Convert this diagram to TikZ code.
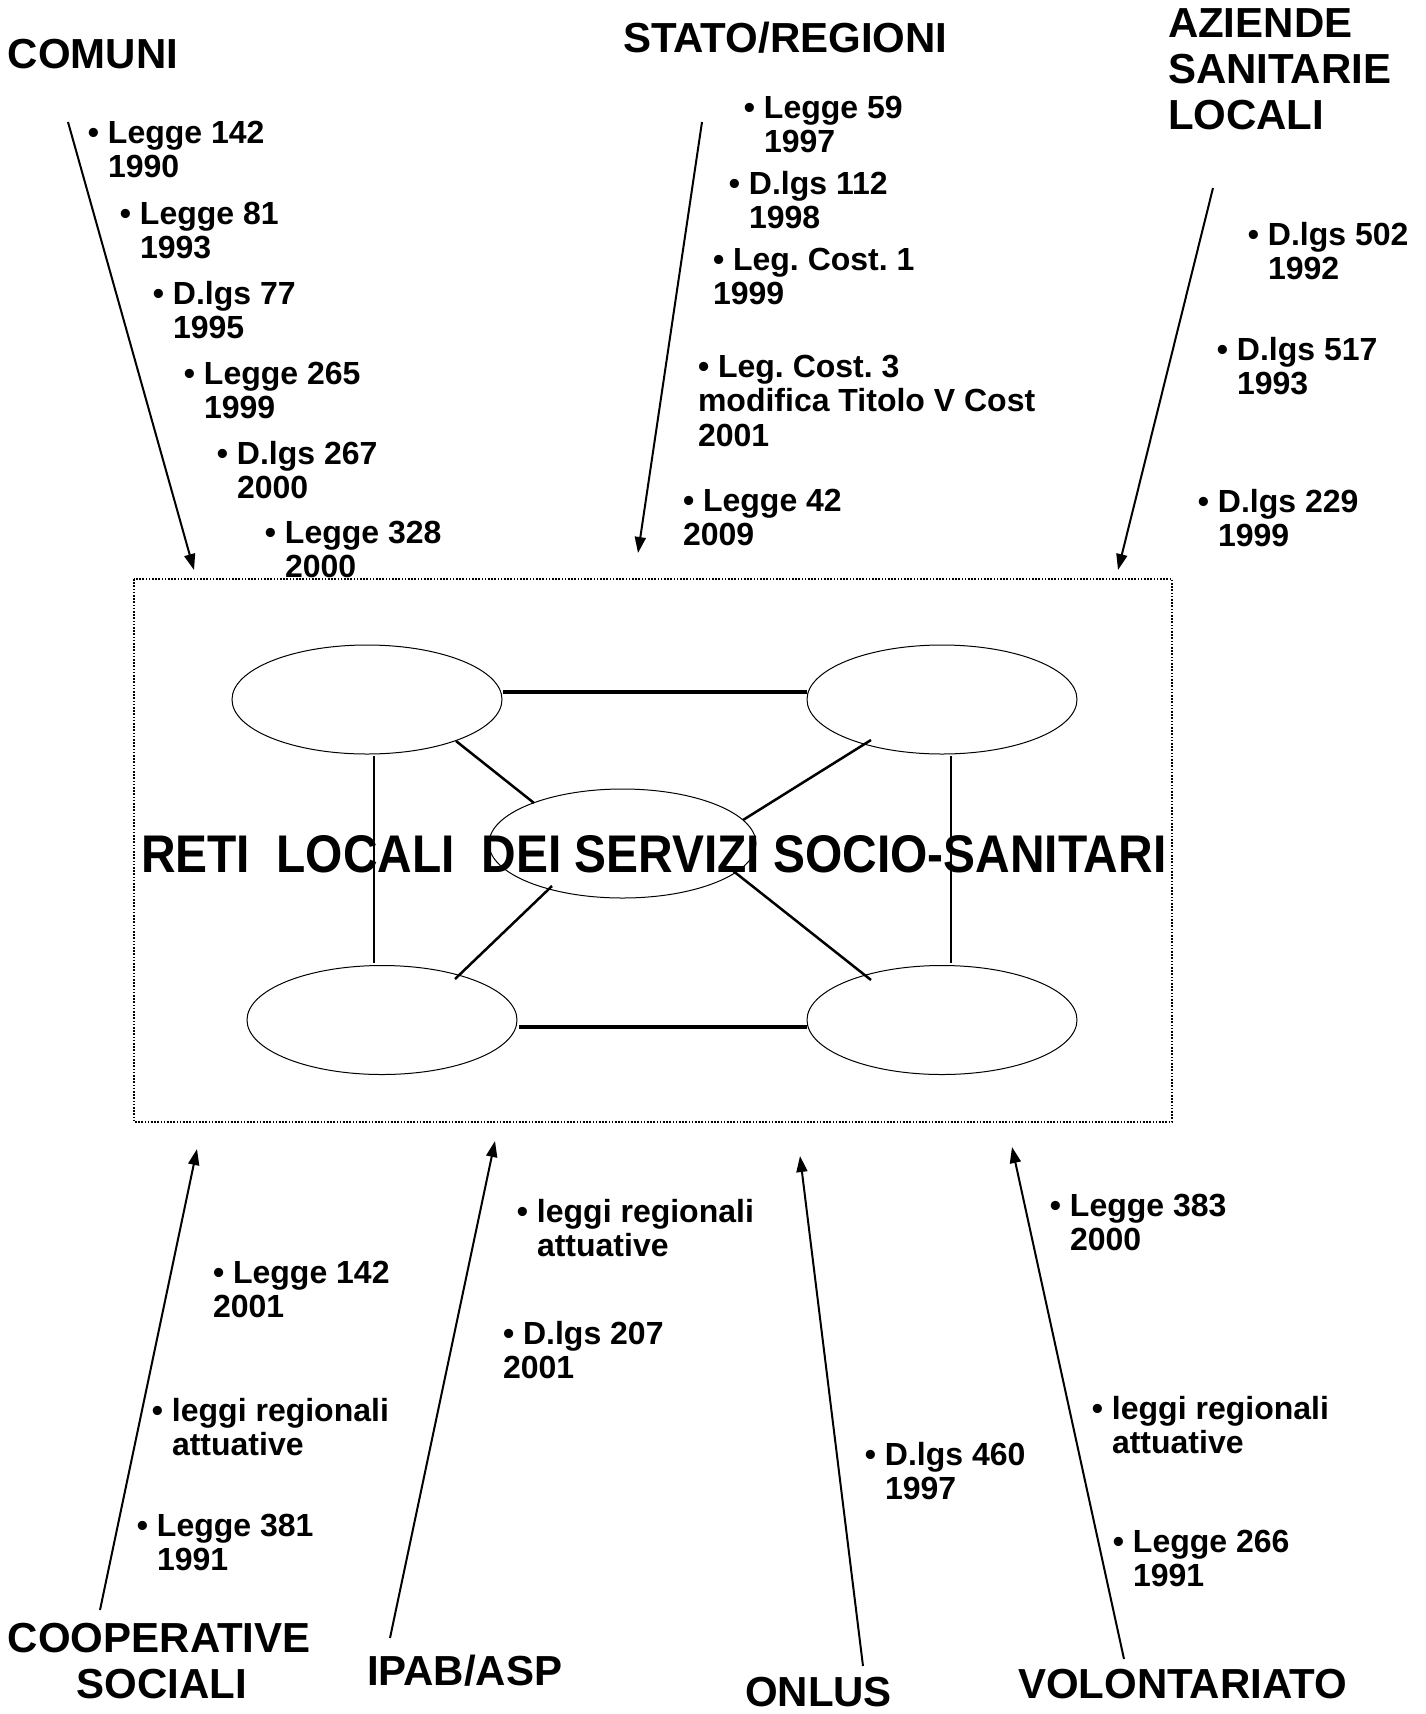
\documentclass[tikz,border=0pt]{standalone}
\usepackage{fontspec}
\setmainfont{Liberation Sans}
\usepackage{graphicx}
\usetikzlibrary{shapes.geometric,arrows.meta}
\frenchspacing
\newcommand{\hangitem}[2]{\vtop{\hbox{\llap{\textbullet\ }#1}\hbox{#2}}}
\newcommand{\flatitem}[2]{\vtop{\hbox{\textbullet\ #1}\hbox{#2}}}
\newcommand{\flatitemiii}[3]{\vtop{\hbox{\textbullet\ #1}\hbox{#2}\hbox{#3}}}
\begin{document}
\begin{tikzpicture}[x=1pt,y=-1pt,
  lbl/.style={inner sep=0pt, outer sep=0pt, anchor=base west, font=\fontsize{32}{34.5}\selectfont\bfseries},
  head/.style={inner sep=0pt, outer sep=0pt, anchor=base west, font=\fontsize{42}{46}\selectfont\bfseries},
  oval/.style={draw, ellipse, line width=1pt, minimum width=270pt, minimum height=109pt, inner sep=0pt},
  arr/.style={line width=2pt, -{Triangle[length=16pt,width=11pt]}},
  hline/.style={line width=3.2pt},
  vline/.style={line width=2pt},
  dline/.style={line width=2.5pt},
  frame/.style={line width=2pt, dash pattern=on 1.6pt off 1.6pt}]
\fill[white] (0,0) rectangle (1426,1714);
\useasboundingbox (0,0) rectangle (1426,1714);

% frame
\draw[frame] (134,579) rectangle (1172,1122);

% ellipses
\node[oval] (tl) at (367,699.5) {};
\node[oval] (tr) at (942,699.5) {};
\node[oval, minimum width=267pt] (c) at (622.5,843.5) {};
\node[oval] (bl) at (382,1020) {};
\node[oval] (br) at (942,1020) {};

% network lines
\draw[hline] ([shift={(136,-7.5)}]tl.center) -- ([shift={(-135,-7.5)}]tr.center);
\draw[hline] ([shift={(137,7)}]bl.center) -- ([shift={(-135,7)}]br.center);
\draw[vline] ([shift={(7,56.5)}]tl.center) -- ([shift={(-8,-57)}]bl.center);
\draw[vline] ([shift={(9,56.5)}]tr.center) -- ([shift={(9,-57)}]br.center);
\draw[dline] ([shift={(89,41.5)}]tl.center) -- ([shift={(-88.5,-40.5)}]c.center);
\draw[dline] ([shift={(-71,40.5)}]tr.center) -- ([shift={(120.5,-23.5)}]c.center);
\draw[dline] ([shift={(-70.5,42.5)}]c.center) -- ([shift={(73,-41)}]bl.center);
\draw[dline] ([shift={(109.5,26.5)}]c.center) -- ([shift={(-71,-40)}]br.center);

% title
\node[inner sep=0pt, outer sep=0pt, anchor=base west] (title) at (141,872)
  {\resizebox{1025pt}{37pt}{\bfseries RETI\ \ LOCALI\ \ DEI SERVIZI SOCIO-SANITARI}};

% headings
\node[head] (comuni) at (8,68) {COMUNI};
\node[head] (stato) at (623,52) {STATO/REGIONI};
\node[head] (asl) at (1168,37) {\vtop{\hbox{AZIENDE}\hbox{SANITARIE}\hbox{LOCALI}}};
\node[head] (coop) at (8,1652) {COOPERATIVE};
\node[head, anchor=base] (coopb) at (161.5,1698) {SOCIALI};
\node[head] (ipab) at (367,1685) {IPAB/ASP};
\node[head] (onlus) at (745,1706) {ONLUS};
\node[head] (vol) at (1018,1698) {VOLONTARIATO};

% arrow end points
\coordinate (a1s) at (68,122);   \coordinate (a1e) at (194,570);
\coordinate (a2s) at (702,122);  \coordinate (a2e) at (638,553);
\coordinate (a3s) at (1213,188); \coordinate (a3e) at (1118,570);
\coordinate (a4s) at (100,1610); \coordinate (a4e) at (197,1149);
\coordinate (a5s) at (390,1638); \coordinate (a5e) at (495,1141);
\coordinate (a6s) at (863,1666); \coordinate (a6e) at (800,1156);
\coordinate (a7s) at (1124,1659);\coordinate (a7e) at (1012,1147);
\draw[arr] (a1s) -- (a1e);
\draw[arr] (a2s) -- (a2e);
\draw[arr] (a3s) -- (a3e);
\draw[arr] (a4s) -- (a4e);
\draw[arr] (a5s) -- (a5e);
\draw[arr] (a6s) -- (a6e);
\draw[arr] (a7s) -- (a7e);

% COMUNI laws
\node[lbl] (c1) at (108,143) {\hangitem{Legge 142}{1990}};
\node[lbl] (c2) at (140,224) {\hangitem{Legge 81}{1993}};
\node[lbl] (c3) at (173,304) {\hangitem{D.lgs 77}{1995}};
\node[lbl] (c4) at (204,384) {\hangitem{Legge 265}{1999}};
\node[lbl] (c5) at (237,464) {\hangitem{D.lgs 267}{2000}};
\node[lbl] (c6) at (285,543) {\hangitem{Legge 328}{2000}};

% STATO/REGIONI laws
\node[lbl] (s1) at (764,118) {\hangitem{Legge 59}{1997}};
\node[lbl] (s2) at (749,194) {\hangitem{D.lgs 112}{1998}};
\node[lbl] (s3) at (713,270) {\flatitem{Leg. Cost. 1}{1999}};
\node[lbl] (s4) at (698,377) {\flatitemiii{Leg. Cost. 3}{modifica Titolo V Cost}{2001}};
\node[lbl] (s5) at (683,511) {\flatitem{Legge 42}{2009}};

% ASL laws
\node[lbl] (l1) at (1268,245) {\hangitem{D.lgs 502}{1992}};
\node[lbl] (l2) at (1237,360) {\hangitem{D.lgs 517}{1993}};
\node[lbl] (l3) at (1218,512) {\hangitem{D.lgs 229}{1999}};

% COOPERATIVE laws
\node[lbl] (p1) at (213,1283) {\flatitem{Legge 142}{2001}};
\node[lbl] (p2) at (172,1421) {\hangitem{leggi regionali}{attuative}};
\node[lbl] (p3) at (157,1536) {\hangitem{Legge 381}{1991}};

% IPAB laws
\node[lbl] (i1) at (537,1222) {\hangitem{leggi regionali}{attuative}};
\node[lbl] (i2) at (503,1344) {\flatitem{D.lgs 207}{2001}};

% ONLUS laws
\node[lbl] (o1) at (885,1465) {\hangitem{D.lgs 460}{1997}};

% VOLONTARIATO laws
\node[lbl] (v1) at (1070,1216) {\hangitem{Legge 383}{2000}};
\node[lbl] (v2) at (1112,1419) {\hangitem{leggi regionali}{attuative}};
\node[lbl] (v3) at (1133,1552) {\hangitem{Legge 266}{1991}};
\end{tikzpicture}
\end{document}
